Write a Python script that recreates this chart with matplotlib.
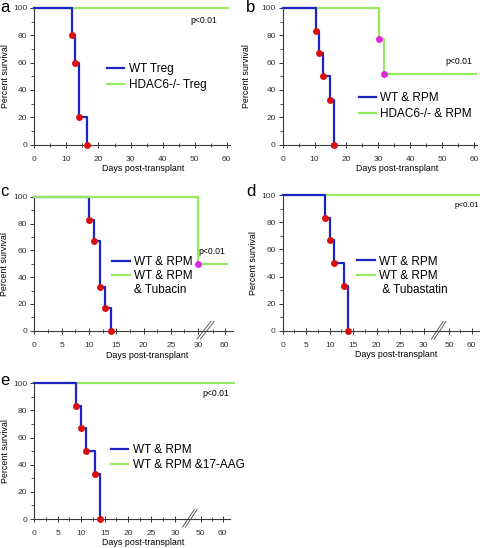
import numpy as np
import matplotlib.pyplot as plt
from matplotlib.lines import Line2D

plt.rcParams['font.family'] = ['Liberation Sans', 'DejaVu Sans']

BLUE = '#1c24c4'
GREEN = '#96ea60'
RED = '#d80f0f'
MAGENTA = '#dc28e0'

# survival data (days, percent)
a_wt_days = [0, 11.7, 12.8, 13.8, 16.5]
a_wt_surv = [100, 80, 60, 20, 0]
a_ko_days = [0, 60.5]
a_ko_surv = [100, 100]

b_wt_days = [0, 10.4, 11.3, 12.5, 14.8, 16]
b_wt_surv = [100, 83, 67, 50, 33, 0]
b_ko_days = [0, 30.3, 31.8, 60.5]
b_ko_surv = [100, 77, 52, 52]

c_wt_days = [0, 10, 11, 12, 13, 14]
c_wt_surv = [100, 83, 67, 33, 17, 0]
c_ko_days = [0, 30, 62]
c_ko_surv = [100, 50, 50]

d_wt_days = [0, 9, 10, 11, 13, 14]
d_wt_surv = [100, 83, 67, 50, 33, 0]
d_ko_days = [0, 66]
d_ko_surv = [100, 100]

e_wt_days = [0, 9, 10, 11, 13, 14]
e_wt_surv = [100, 83, 67, 50, 33, 0]
e_ko_days = [0, 65]
e_ko_surv = [100, 100]


def linear(t):
    return np.asarray(t, dtype=float)


def squash_c(t):
    t = np.asarray(t, dtype=float)
    return np.where(t <= 30, t, 30 + (t - 30) * 0.163)


def squash_de(t):
    t = np.asarray(t, dtype=float)
    return np.where(t <= 32, t, 35.5 + (t - 50) * 0.47)


def style_axes(ax, xlim):
    ax.set_xlim(0, xlim)
    ax.set_ylim(0, 100)
    for s in ['top', 'right']:
        ax.spines[s].set_visible(False)
    for s in ['left', 'bottom']:
        ax.spines[s].set_color('#3a3a3a')
        ax.spines[s].set_linewidth(0.8)
    ax.set_yticks([0, 20, 40, 60, 80, 100])
    ax.set_yticks([10, 30, 50, 70, 90], minor=True)
    ax.tick_params(axis='x', which='major', direction='inout', length=4,
                   width=0.7, pad=6, labelsize=6, colors='#333333')
    ax.tick_params(axis='x', which='minor', direction='inout', length=2.5,
                   width=0.6, colors='#333333')
    ax.tick_params(axis='y', which='major', direction='out', length=3,
                   width=0.7, pad=2, labelsize=6, colors='#333333')
    ax.tick_params(axis='y', which='minor', direction='out', length=2,
                   width=0.6, colors='#333333')
    ax.set_ylabel('Percent survival', fontsize=6.4)
    ax.set_xlabel('Days post-transplant', fontsize=6.4)


def draw(ax, f, wt_d, wt_s, ko_d, ko_s, green_top=False, ko_marks=None):
    zw, zk = (3, 4) if green_top else (4, 3)
    ax.step(f(wt_d), wt_s, where='post', color=BLUE, lw=1.6, zorder=zw,
            clip_on=False)
    ax.step(f(ko_d), ko_s, where='post', color=GREEN, lw=1.6, zorder=zk,
            clip_on=False)
    ax.plot(f(wt_d[1:]), wt_s[1:], 'o', color=RED, ms=5, mec='none',
            zorder=5, clip_on=False)
    if ko_marks:
        ax.plot(f(ko_d[1:ko_marks + 1]), ko_s[1:ko_marks + 1], 'o',
                color=MAGENTA, ms=5, mec='none', zorder=5, clip_on=False)


def brk(ax, cx):
    for off in (-0.3, 0.3):
        ax.plot([cx + off - 1.25, cx + off + 1.25], [-6, 7], color='#444444',
                lw=0.6, clip_on=False, zorder=6)


def legend(ax, labels, x, y, spacing=0.35):
    handles = [Line2D([], [], color=BLUE, lw=1.6),
               Line2D([], [], color=GREEN, lw=1.6)]
    while len(handles) < len(labels):
        handles.append(Line2D([], [], color='none'))
    ax.legend(handles, labels, loc='upper left', bbox_to_anchor=(x, y),
              frameon=False, fontsize=8.5, handlelength=1.5,
              handletextpad=0.35, labelspacing=spacing, borderpad=0,
              borderaxespad=0)


fig = plt.figure(figsize=(4.8, 5.48), dpi=100)

# a
ax = fig.add_axes([0.0715, 0.736, 0.4077, 0.2495])
style_axes(ax, 61)
draw(ax, linear, a_wt_days, a_wt_surv, a_ko_days, a_ko_surv)
ax.set_xticks(np.arange(0, 61, 10))
ax.set_xticks(np.arange(5, 61, 10), minor=True)
ax.text(48.5, 91, 'p<0.01', fontsize=6.2, va='center')
legend(ax, ['WT Treg', 'HDAC6-/- Treg'], 0.37, 0.6)
ax.yaxis.set_label_coords(-0.125, 0.5)
ax.xaxis.set_label_coords(0.554, -0.14)

# b
ax = fig.add_axes([0.589, 0.736, 0.405, 0.2495])
style_axes(ax, 61)
draw(ax, linear, b_wt_days, b_wt_surv, b_ko_days, b_ko_surv, ko_marks=2)
ax.set_xticks(np.arange(0, 61, 10))
ax.set_xticks(np.arange(5, 61, 10), minor=True)
ax.text(50.9, 61, 'p<0.01', fontsize=6.2, va='center')
legend(ax, ['WT & RPM', 'HDAC6-/- & RPM'], 0.39, 0.385)
ax.yaxis.set_label_coords(-0.165, 0.5)
ax.xaxis.set_label_coords(0.587, -0.14)

# c
ax = fig.add_axes([0.0715, 0.3965, 0.414, 0.2445])
style_axes(ax, 36.4)
draw(ax, squash_c, c_wt_days, c_wt_surv, c_ko_days, c_ko_surv,
     green_top=True, ko_marks=1)
ax.set_xticks(list(np.arange(0, 31, 5)) + [float(squash_c(60))])
ax.set_xticklabels(['0', '5', '10', '15', '20', '25', '30', '60'])
ax.set_xticks(list(np.arange(2.5, 30, 5)) + [32.8], minor=True)
ax.text(30.0, 59, 'p<0.01', fontsize=6.2, va='center')
legend(ax, ['WT & RPM', 'WT & RPM', '& Tubacin'], 0.39, 0.56, spacing=0.2)
brk(ax, 31.4)
ax.yaxis.set_label_coords(-0.125, 0.5)
ax.xaxis.set_label_coords(0.566, -0.15)

# d
ax = fig.add_axes([0.589, 0.396, 0.409, 0.248])
style_axes(ax, 41.8)
draw(ax, squash_de, d_wt_days, d_wt_surv, d_ko_days, d_ko_surv)
ax.set_xticks(list(np.arange(0, 31, 5)) + list(squash_de([50, 60])))
ax.set_xticklabels(['0', '5', '10', '15', '20', '25', '30', '50', '60'])
ax.set_xticks(list(np.arange(2.5, 30, 5)) + list(squash_de([55])),
              minor=True)
ax.text(36.6, 92.6, 'p<0.01', fontsize=5.8, va='center')
legend(ax, ['WT & RPM', 'WT & RPM', ' & Tubastatin'], 0.38, 0.555,
       spacing=0.2)
brk(ax, 33.2)
ax.yaxis.set_label_coords(-0.125, 0.5)
ax.xaxis.set_label_coords(0.576, -0.14)

# e
ax = fig.add_axes([0.0715, 0.0529, 0.408, 0.2476])
style_axes(ax, 41.8)
draw(ax, squash_de, e_wt_days, e_wt_surv, e_ko_days, e_ko_surv)
ax.set_xticks(list(np.arange(0, 31, 5)) + list(squash_de([50, 60])))
ax.set_xticklabels(['0', '5', '10', '15', '20', '25', '30', '50', '60'])
ax.set_xticks(list(np.arange(2.5, 30, 5)) + list(squash_de([55])),
              minor=True)
ax.text(35.8, 92.6, 'p<0.01', fontsize=6.2, va='center')
legend(ax, ['WT & RPM', 'WT & RPM &17-AAG'], 0.39, 0.55, spacing=0.25)
brk(ax, 33.2)
ax.yaxis.set_label_coords(-0.125, 0.5)
ax.xaxis.set_label_coords(0.554, -0.14)

for lab, x, y in [('a', 0.0, 1.0), ('b', 0.513, 1.0), ('c', 0.0, 0.665),
                  ('d', 0.513, 0.665), ('e', 0.0, 0.32)]:
    fig.text(x, y, lab, fontsize=12, va='top', ha='left')

fig.savefig('out.png', dpi=100)
